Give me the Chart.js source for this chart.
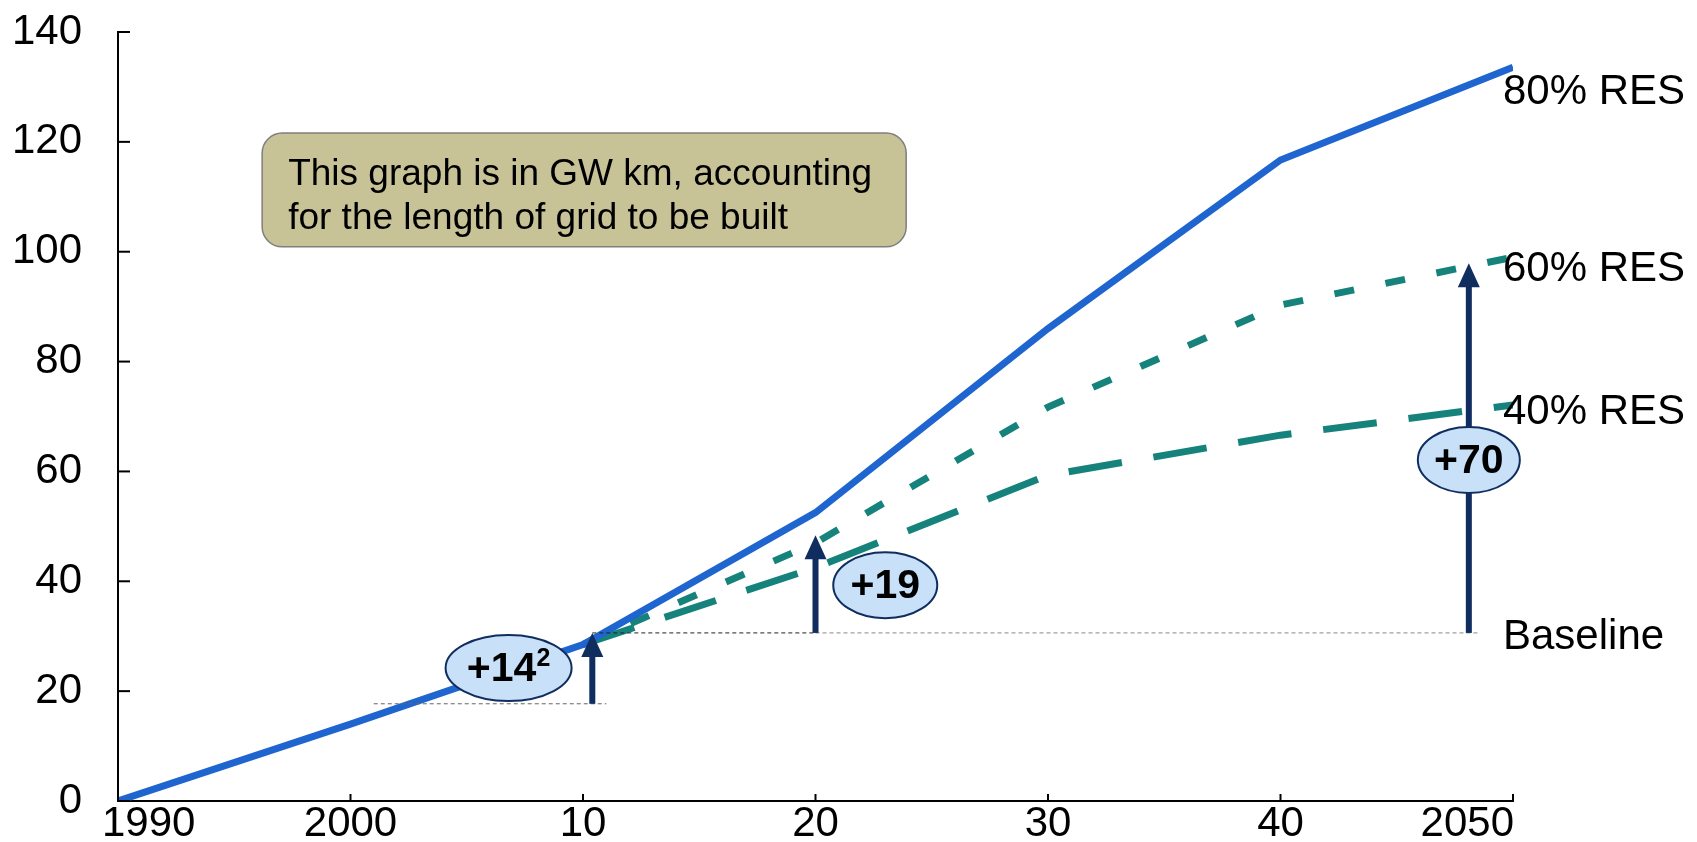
<!DOCTYPE html>
<html>
<head>
<meta charset="utf-8">
<script src="https://cdn.jsdelivr.net/npm/chart.js@4.4.0/dist/chart.umd.min.js"></script>
<style>
html, body { margin: 0; padding: 0; background: #fff; }
#wrap { width: 1697px; height: 842px; position: relative; }
</style>
</head>
<body>
<div id="wrap"><canvas id="myChart"></canvas></div>
<script>
// x axis: years and the labels printed under them
var years = [1990, 2000, 2010, 2020, 2030, 2040, 2050];
var xTickLabels = ['1990', '2000', '10', '20', '30', '40', '2050'];
// grid needs in GW km
var res80 = [0, 14, 28.5, 52.5, 86, 116.7, 133.6];
var res60 = [null, null, 28.5, 47, 71.7, 90.3, 99];
var res40 = [null, null, 28.5, 42.5, 59.3, 66.6, 72.1];
var seriesNames = ['80% RES', '60% RES', '40% RES', 'Baseline'];
var nameLevels = [129.3, 97.1, 71.1, 30.2];
// step arrows (+14, +19, +70)
var stepLabels = ['+14', '+19', '+70'];
var stepYears = [2010.4, 2020, 2048.1];
var stepFrom = [17.7, 30.6, 30.6];
var stepTo = [30.6, 48.4, 97.9];
var bubbleYears = [2006.8, 2023, 2048.1];
var bubbleLevels = [24.2, 39.3, 62.1];
var noteText = ['This graph is in GW km, accounting', 'for the length of grid to be built'];

var FONT = "'Liberation Sans', Arial, sans-serif";
var NAVY = '#0f2d5f';

function pts(arr) {
  var out = [];
  for (var i = 0; i < years.length; i++) {
    if (arr[i] !== null) out.push({ x: years[i], y: arr[i] });
  }
  return out;
}

var extras = {
  id: 'extras',
  afterDatasetsDraw: function (chart) {
    var c = chart.ctx, xs = chart.scales.x, ys = chart.scales.y, ca = chart.chartArea;
    var X = function (v) { return xs.getPixelForValue(v); };
    var Y = function (v) { return ys.getPixelForValue(v); };
    c.save();

    // inward tick marks
    c.strokeStyle = '#000';
    c.lineWidth = 2;
    ys.ticks.forEach(function (t, i) {
      var py = ys.getPixelForTick(i);
      c.beginPath(); c.moveTo(ca.left, py); c.lineTo(ca.left + 12, py); c.stroke();
    });
    xs.ticks.forEach(function (t, i) {
      var px = xs.getPixelForTick(i);
      c.beginPath(); c.moveTo(px, ca.bottom); c.lineTo(px, ca.bottom - 7); c.stroke();
    });

    // end labels of the x axis
    c.fillStyle = '#000';
    c.font = '42px ' + FONT;
    c.textBaseline = 'middle';
    var last = xs.ticks.length - 1;
    c.textAlign = 'left';
    c.fillText(xs.ticks[0].label, xs.getPixelForTick(0) - 16, xs.top + 23);
    c.textAlign = 'right';
    c.fillText(xs.ticks[last].label, xs.getPixelForTick(last) + 1, xs.top + 23);

    // dashed guide lines
    c.lineWidth = 1;
    c.setLineDash([4, 3]);
    c.strokeStyle = '#666';
    c.beginPath(); c.moveTo(X(2001), Y(stepFrom[0])); c.lineTo(X(2011), Y(stepFrom[0])); c.stroke();
    c.strokeStyle = '#222';
    c.beginPath(); c.moveTo(X(stepYears[0]), Y(stepTo[0])); c.lineTo(X(stepYears[1]), Y(stepTo[0])); c.stroke();
    c.strokeStyle = '#888';
    c.beginPath(); c.moveTo(X(stepYears[1]), Y(stepTo[0])); c.lineTo(X(2048.6), Y(stepTo[0])); c.stroke();
    c.setLineDash([]);

    // arrows
    c.fillStyle = NAVY;
    c.strokeStyle = NAVY;
    for (var i = 0; i < stepYears.length; i++) {
      var ax = X(stepYears[i]), y0 = Y(stepFrom[i]), y1 = Y(stepTo[i]);
      c.fillRect(ax - 3, y1 + 20, 6, y0 - y1 - 20);
      c.beginPath();
      c.moveTo(ax, y1); c.lineTo(ax - 11, y1 + 24); c.lineTo(ax + 11, y1 + 24); c.closePath();
      c.fill();
    }

    // bubbles
    var radii = [[63, 33], [52, 33], [51, 33]];
    for (var j = 0; j < stepLabels.length; j++) {
      var bx = X(bubbleYears[j]), by = Y(bubbleLevels[j]);
      c.beginPath();
      c.ellipse(bx, by, radii[j][0], radii[j][1], 0, 0, Math.PI * 2);
      c.fillStyle = '#c8e0f8';
      c.fill();
      c.lineWidth = 2;
      c.strokeStyle = NAVY;
      c.stroke();
      c.fillStyle = '#000';
      c.font = 'bold 41px ' + FONT;
      c.textBaseline = 'middle';
      if (j === 0) {
        c.textAlign = 'left';
        var w = c.measureText(stepLabels[j]).width;
        c.font = 'bold 25px ' + FONT;
        var w2 = c.measureText('2').width;
        var sx = bx - (w + w2) / 2;
        c.font = 'bold 41px ' + FONT;
        c.fillText(stepLabels[j], sx, by + 2);
        c.font = 'bold 25px ' + FONT;
        c.fillText('2', sx + w, by - 9);
      } else {
        c.textAlign = 'center';
        c.fillText(stepLabels[j], bx, by + 2);
      }
    }

    // note box
    var l = X(1996.2), r = X(2023.9), t = Y(121.6), b = Y(100.9);
    c.beginPath();
    c.roundRect(l, t, r - l, b - t, 20);
    c.fillStyle = '#c8c397';
    c.fill();
    c.lineWidth = 1.5;
    c.strokeStyle = '#7f7f7f';
    c.stroke();
    c.fillStyle = '#000';
    c.font = '37px ' + FONT;
    c.textAlign = 'left';
    c.textBaseline = 'alphabetic';
    c.fillText(noteText[0], l + 26, t + 52);
    c.fillText(noteText[1], l + 26, t + 96);

    // series names on the right
    c.font = '42px ' + FONT;
    c.textBaseline = 'middle';
    for (var k = 0; k < seriesNames.length; k++) {
      c.fillText(seriesNames[k], ca.right - 10, Y(nameLevels[k]) + 2);
    }
    c.restore();
  }
};

var ctx = document.getElementById('myChart');
var myChart = new Chart(ctx, {
  type: 'line',
  data: {
    datasets: [
      {
        label: seriesNames[0],
        data: pts(res80),
        borderColor: '#1f65d0',
        borderWidth: 7,
        fill: false
      },
      {
        label: seriesNames[1],
        data: pts(res60),
        borderColor: '#16827c',
        borderWidth: 7,
        borderDash: [20, 32],
        fill: false
      },
      {
        label: seriesNames[2],
        data: pts(res40),
        borderColor: '#16827c',
        borderWidth: 7,
        borderDash: [54, 32],
        fill: false
      }
    ]
  },
  options: {
    responsive: true,
    maintainAspectRatio: false,
    animation: false,
    elements: { point: { radius: 0 }, line: { tension: 0, borderCapStyle: 'butt' } },
    layout: { padding: { top: 32, right: 184, bottom: 0, left: 0 } },
    plugins: { legend: { display: false }, tooltip: { enabled: false } },
    scales: {
      x: {
        type: 'linear',
        min: 1990,
        max: 2050,
        afterFit: function (s) { s.height = 41; s.paddingLeft = 0; s.paddingRight = 0; },
        afterBuildTicks: function (s) { s.ticks = years.map(function (v) { return { value: v }; }); },
        grid: { display: false, drawTicks: false },
        border: { display: true, color: '#000', width: 2 },
        ticks: {
          padding: 0,
          maxRotation: 0,
          autoSkip: false,
          font: { family: FONT, size: 42, lineHeight: 1.1 },
          color: function (c) { return (c.index === 0 || c.index === years.length - 1) ? 'rgba(0,0,0,0)' : '#000'; },
          callback: function (v) { return xTickLabels[years.indexOf(v)]; }
        }
      },
      y: {
        min: 0,
        max: 140,
        afterFit: function (s) { s.width = 118; s.paddingTop = 0; s.paddingBottom = 0; },
        grid: { display: false, drawTicks: false },
        border: { display: true, color: '#000', width: 2 },
        ticks: {
          stepSize: 20,
          padding: 36,
          color: '#000',
          font: { family: FONT, size: 42 }
        }
      }
    }
  },
  plugins: [extras]
});
</script>
</body>
</html>
